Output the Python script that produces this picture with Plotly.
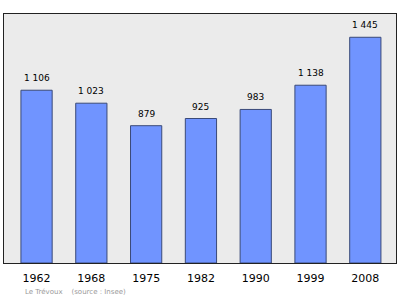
import plotly.graph_objects as go

years = ["1962", "1968", "1975", "1982", "1990", "1999", "2008"]
population = [1106, 1023, 879, 925, 983, 1138, 1445]
value_labels = ["1 106", "1 023", "879", "925", "983", "1 138", "1 445"]
footer = "Le Trévoux    (source : Insee)"

idx = list(range(len(years)))

fig = go.Figure()
fig.add_trace(go.Bar(
    x=idx, y=population, width=0.57,
    marker=dict(color="#7094FF", line=dict(color="#3a4a78", width=1)),
    hoverinfo="skip",
))

for i, v, t in zip(idx, population, value_labels):
    fig.add_annotation(x=i, y=v, text=t, showarrow=False, yanchor="bottom",
                       yshift=5, font=dict(family="DejaVu Sans", size=9, color="#000"))

fig.add_annotation(xref="paper", yref="paper", x=0.048, y=-0.115, xanchor="left",
                   yanchor="middle", text=footer, showarrow=False,
                   font=dict(family="DejaVu Sans", size=7, color="#999999"))

fig.update_layout(
    width=400, height=299,
    margin=dict(l=4, r=4, t=14, b=36, pad=0),
    paper_bgcolor="white", plot_bgcolor="#ebebeb",
    showlegend=False,
    xaxis=dict(range=[-0.594, 6.56], tickvals=idx, ticktext=years,
               showgrid=False, zeroline=False, showline=True, mirror=True,
               linecolor="#222", linewidth=1.2, ticks="", ticklabelstandoff=5,
               tickfont=dict(family="DejaVu Sans", size=11, color="#000")),
    yaxis=dict(range=[0, 1594], showgrid=False, zeroline=False, showline=True,
               mirror=True, linecolor="#222", linewidth=1.2, showticklabels=False,
               ticks=""),
)

fig.write_html("out.html")
